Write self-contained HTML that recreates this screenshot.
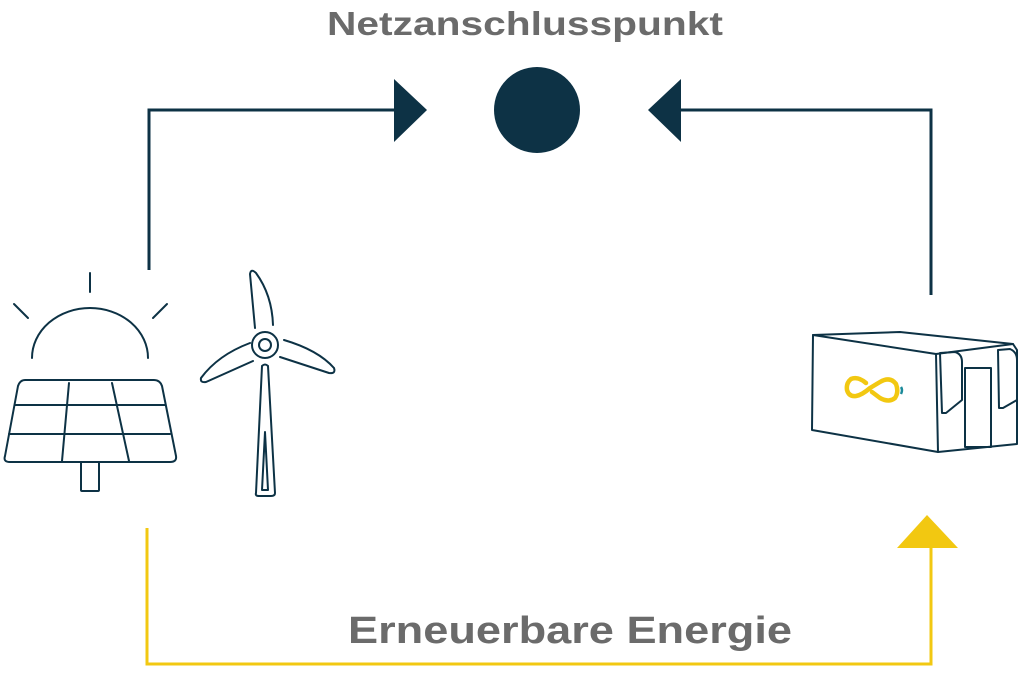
<!DOCTYPE html>
<html><head><meta charset="utf-8"><style>
html,body{margin:0;padding:0;background:#fff;}
svg{display:block}
text{font-family:"Liberation Sans",sans-serif;font-weight:bold;fill:#6b6b6b}
</style></head><body>
<svg width="1024" height="679" viewBox="0 0 1024 679" xmlns="http://www.w3.org/2000/svg">
<text x="327" y="35" font-size="33" textLength="396" lengthAdjust="spacingAndGlyphs">Netzanschlusspunkt</text>
<text x="348" y="643" font-size="38" textLength="444" lengthAdjust="spacingAndGlyphs">Erneuerbare Energie</text>
<g stroke="#0d3245" fill="none" stroke-width="3">
<polyline points="149,270 149,110 396,110"/>
<polyline points="680,110 931,110 931,295"/>
</g>
<polygon points="394,79 427,110 394,142" fill="#0d3245"/>
<polygon points="681,79 648,110 681,142" fill="#0d3245"/>
<circle cx="537" cy="110" r="43" fill="#0d3245"/>
<polyline points="147,528 147,664 931,664 931,545" stroke="#f2c811" stroke-width="3" fill="none"/>
<polygon points="897,548 927,515 958,548" fill="#f2c811"/>
<g stroke="#0d3245" fill="none" stroke-width="2" stroke-linecap="round" stroke-linejoin="round">
<line x1="90" y1="273" x2="90" y2="292"/>
<line x1="14" y1="304" x2="28" y2="318"/>
<line x1="167" y1="304" x2="153" y2="318"/>
<path d="M32,358 A58,50 0 0 1 148,358"/>
<path d="M25,380 L154,380 Q160,380 162,386 L176,456 Q177,462 170,462 L10,462 Q3,462 5,456 L18,386 Q20,380 25,380 Z"/>
<line x1="15" y1="405" x2="165" y2="405"/>
<line x1="9" y1="434" x2="170" y2="434"/>
<line x1="69" y1="383" x2="62" y2="461"/>
<line x1="112" y1="383" x2="129" y2="461"/>
<rect x="81" y="462" width="18" height="29" rx="1"/>
<circle cx="265" cy="345" r="13"/>
<circle cx="265" cy="345" r="6"/>
<path d="M255,328 L250,274 Q251,268 256,273 Q272,295 273,325"/>
<path d="M250,343 Q218,355 201,378 Q200,383 206,382 L253,361"/>
<path d="M284,340 Q318,350 334,368 Q336,374 329,373 L280,357"/>
<path d="M262,366 Q265,363 268,366 L275,493 Q275,496 271,496 L259,496 Q255,496 256,493 Z"/>
<path d="M265,432 L268,490 L262,490 Z"/>
<path d="M813,335 L900,332 L1013,344 L1017,350 L1017,444 L938,452 L812,430 Z"/>
<path d="M813,335 L936,354 L1013,344"/>
<line x1="936" y1="354" x2="938" y2="452"/>
<path d="M940,353 L955,352 Q962,354 962,362 L962,400 L946,413 L942,413 Z"/>
<path d="M998,350 L1010,349 Q1017,352 1017,360 L1017,400 L1003,408 L999,408 Z"/>
<rect x="965" y="368" width="26" height="79"/>
</g>
<path d="M866,383 Q858,376 851,379 Q846,383 847,390 Q849,397 856,396 Q862,395 870,388 L880,382 Q890,376 896,384 Q899,392 895,398 Q889,403 880,398 L872,392" stroke="#f2c811" stroke-width="4.5" fill="none" stroke-linecap="round" stroke-linejoin="round"/>
<path d="M901,387 Q903,390 901,394" stroke="#1b8a9a" stroke-width="2.5" fill="none"/>
</svg>
</body></html>
